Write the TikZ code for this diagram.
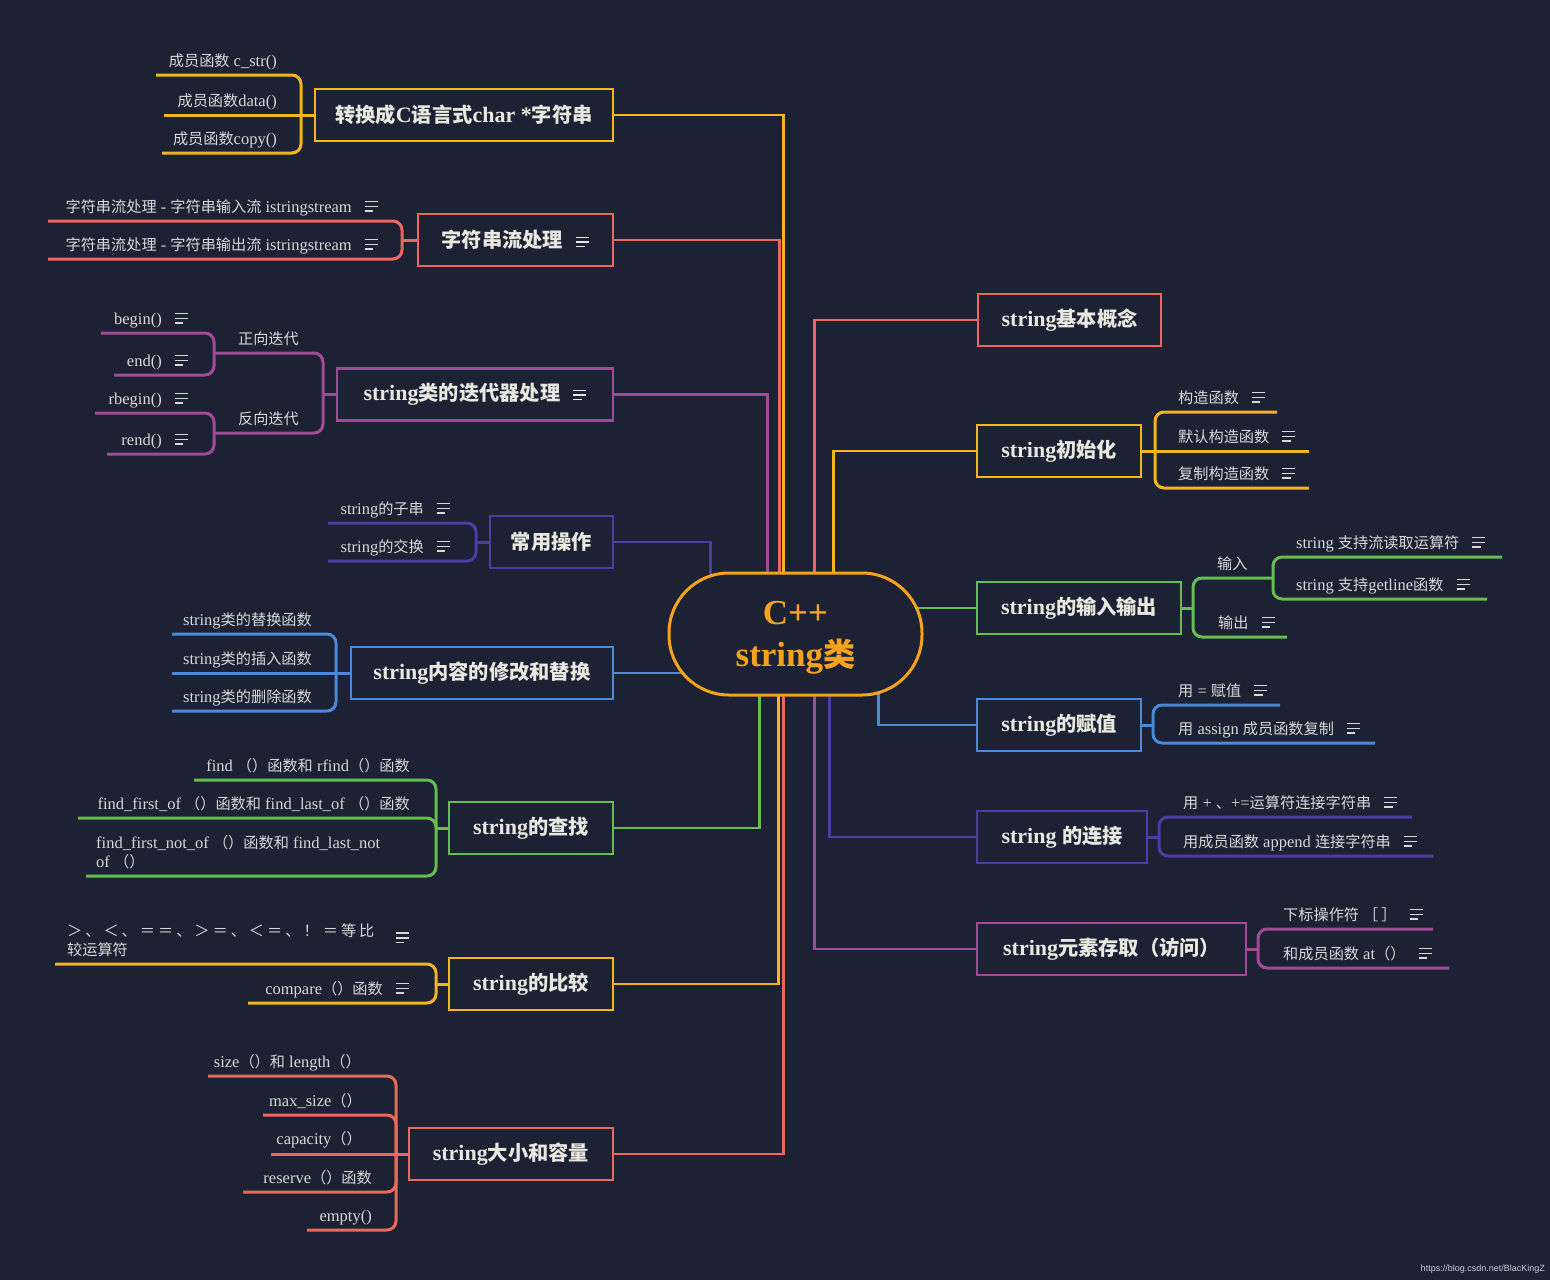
\documentclass[tikz,border=0pt]{standalone}
\usepackage{fontspec}
\setmainfont{Liberation Serif}
\newfontfamily\cjkfont{Noto Sans CJK SC}[Scale=0.92,NFSSFamily=cjkfam]
\newfontfamily\wmfont{Liberation Sans}
\usetikzlibrary{calc}
\pgfdeclarelayer{back}
\pgfsetlayers{back,main}
% automatic switch to the CJK font for Chinese characters
\XeTeXinterchartokenstate=1
\newXeTeXintercharclass\cjkclass
\makeatletter
\count@="3000
\loop\ifnum\count@<"3040 \XeTeXcharclass\count@=\cjkclass\advance\count@\@ne\repeat
\count@="4E00
\loop\ifnum\count@<"A000 \XeTeXcharclass\count@=\cjkclass\advance\count@\@ne\repeat
\count@="FF00
\loop\ifnum\count@<"FFF0 \XeTeXcharclass\count@=\cjkclass\advance\count@\@ne\repeat
\makeatother
\newcommand\tocjk{\fontfamily{cjkfam}\selectfont}
\newcommand\tolat{\fontfamily{\rmdefault}\selectfont}
\XeTeXinterchartoks 0 \cjkclass={\tocjk}
\XeTeXinterchartoks 4095 \cjkclass={\tocjk}
\XeTeXinterchartoks \cjkclass 0={\tolat}
\XeTeXinterchartoks \cjkclass 4095={\tolat}
\newcommand\noteic{\raisebox{0.3pt}{\vbox{\hrule width 13pt height 1.5pt\vskip 3.2pt\hrule width 13pt height 1.5pt\vskip 3.2pt\hrule width 8.5pt height 1.5pt}}}
\newcommand\gp{\hspace{3pt}}
\definecolor{bg}{RGB}{28,34,52}
\definecolor{yel}{RGB}{246,180,30}
\definecolor{ctr}{RGB}{245,163,28}
\definecolor{red}{RGB}{236,104,90}
\definecolor{pur}{RGB}{163,74,150}
\definecolor{ind}{RGB}{78,60,164}
\definecolor{blu}{RGB}{74,136,218}
\definecolor{grn}{RGB}{100,190,80}
\definecolor{stext}{RGB}{216,216,216}
\definecolor{ttext}{RGB}{232,232,224}
\definecolor{wmc}{RGB}{200,204,216}
\begin{document}
\begin{tikzpicture}[x=1pt,y=-1pt,
  topic/.style={draw=#1,line width=2.2pt,fill=bg,minimum height=52pt,inner sep=0pt,text=ttext,font=\bfseries\fontsize{22}{26}\selectfont},
  subL/.style={anchor=base east,inner sep=0pt,text=stext,font=\fontsize{16.5}{20}\selectfont},
  subR/.style={anchor=base west,inner sep=0pt,text=stext,font=\fontsize{16.5}{20}\selectfont},
  multiline/.style={anchor=north west,inner sep=0pt,align=left,text=stext,font=\fontsize{16.5}{19.5}\selectfont},
  mlink/.style={line width=2.4pt},
  brc/.style={line width=3pt,rounded corners=9pt},
]
\useasboundingbox (0,0) rectangle (1550,1280);

% ---------- centre ----------
\node[draw=ctr,line width=3pt,fill=bg,rounded corners=60pt,minimum width=253pt,minimum height=122pt,
      align=center,text=ctr,text depth=-4pt,font=\bfseries\fontsize{35}{42}\selectfont] (C) at (795.5,634) {C++\\string类};

% ---------- left topics ----------
\node[topic=yel,minimum width=298pt,anchor=east] (L1) at (614,115) {转换成C语言式char *字符串};
\node[topic=red,minimum width=195pt,anchor=east] (L2) at (614,240) {字符串流处理\hspace{13pt}\noteic};
\node[topic=pur,minimum width=276pt,anchor=east] (L3) at (614,394.5) {string类的迭代器处理\hspace{13pt}\noteic};
\node[topic=ind,minimum width=123pt,anchor=east] (L4) at (614,542) {常用操作};
\node[topic=blu,minimum width=262pt,anchor=east] (L5) at (614,673) {string内容的修改和替换};
\node[topic=grn,minimum width=164pt,anchor=east] (L6) at (614,828) {string的查找};
\node[topic=yel,minimum width=164pt,anchor=east] (L7) at (614,984) {string的比较};
\node[topic=red,minimum width=204pt,anchor=east] (L8) at (614,1154) {string大小和容量};

% ---------- right topics ----------
\node[topic=red,minimum width=183pt,anchor=west] (R1) at (977,320) {string基本概念};
\node[topic=yel,minimum width=164pt,anchor=west] (R2) at (976,451) {string初始化};
\node[topic=grn,minimum width=204pt,anchor=west] (R3) at (976,608) {string的输入输出};
\node[topic=blu,minimum width=164pt,anchor=west] (R4) at (976,725) {string的赋值};
\node[topic=ind,minimum width=170pt,anchor=west] (R5) at (976,837) {string 的连接};
\node[topic=pur,minimum width=269pt,anchor=west] (R6) at (976,949) {string元素存取（访问）};

% ---------- left subtopic texts ----------
\node[subL] (n11) at (277,66) {成员函数 c\_str()};
\node[subL] (n12) at (277,106) {成员函数data()};
\node[subL] (n13) at (277,144) {成员函数copy()};

\node[subL] (n21) at (378,212) {字符串流处理 - 字符串输入流 istringstream\hspace{13pt}\noteic};
\node[subL] (n22) at (378,250) {字符串流处理 - 字符串输出流 istringstream\hspace{13pt}\noteic};

\node[subL] (n31) at (299,344) {正向迭代};
\node[subL] (n32) at (299,424) {反向迭代};
\node[subL] (n311) at (188,324) {begin()\hspace{13pt}\noteic};
\node[subL] (n312) at (188,366) {end()\hspace{13pt}\noteic};
\node[subL] (n321) at (188,404) {rbegin()\hspace{13pt}\noteic};
\node[subL] (n322) at (188,445) {rend()\hspace{13pt}\noteic};

\node[subL] (n41) at (450,514) {string的子串\hspace{13pt}\noteic};
\node[subL] (n42) at (450,552) {string的交换\hspace{13pt}\noteic};

\node[subL] (n51) at (312,625) {string类的替换函数};
\node[subL] (n52) at (312,664) {string类的插入函数};
\node[subL] (n53) at (312,702) {string类的删除函数};

\node[subL] (n61) at (410,771) {find （）函数和 rfind（）函数};
\node[subL] (n62) at (410,809) {find\_first\_of （）函数和 find\_last\_of （）函数};
\node[multiline] (n63) at (96,835) {find\_first\_not\_of （）函数和 find\_last\_not\\of （）};

\node[multiline] (n71) at (67,923) {＞\gp{}、\gp{}＜\gp{}、\gp{}＝\gp{}＝\gp{}、\gp{}＞\gp{}＝\gp{}、\gp{}＜\gp{}＝\gp{}、\gp{}！ ＝\gp{}等\gp{}比\\较运算符};
\node[inner sep=0pt,text=stext] (i71) at (402,938) {\noteic};
\node[subL] (n72) at (409,994) {compare（）函数\hspace{13pt}\noteic};

\node[subL] (n81) at (361,1067) {size（）和 length（）};
\node[subL] (n82) at (362,1106) {max\_size（）};
\node[subL] (n83) at (362,1144) {capacity（）};
\node[subL] (n84) at (372,1183) {reserve（）函数};
\node[subL] (n85) at (372,1221) {empty()};

% ---------- right subtopic texts ----------
\node[subR] (m21) at (1178,403) {构造函数\hspace{13pt}\noteic};
\node[subR] (m22) at (1178,442) {默认构造函数\hspace{13pt}\noteic};
\node[subR] (m23) at (1178,479) {复制构造函数\hspace{13pt}\noteic};

\node[subR] (m31) at (1217,569) {输入};
\node[subR] (m32) at (1218,628) {输出\hspace{13pt}\noteic};
\node[subR] (m311) at (1296,548) {string 支持流读取运算符\hspace{13pt}\noteic};
\node[subR] (m312) at (1296,590) {string 支持getline函数\hspace{13pt}\noteic};

\node[subR] (m41) at (1178,696) {用 = 赋值\hspace{13pt}\noteic};
\node[subR] (m42) at (1178,734) {用 assign 成员函数复制\hspace{13pt}\noteic};

\node[subR] (m51) at (1183,808) {用 + 、+=运算符连接字符串\hspace{13pt}\noteic};
\node[subR] (m52) at (1183,847) {用成员函数 append 连接字符串\hspace{13pt}\noteic};

\node[subR] (m61) at (1283,920) {下标操作符 ［\gp{}］\hspace{13pt}\noteic};
\node[subR] (m62) at (1283,959) {和成员函数 at（）\hspace{13pt}\noteic};

\node[anchor=east,inner sep=0pt,text=wmc,font=\wmfont\fontsize{9}{10}\selectfont] (wm) at (1545,1269) {https://blog.csdn.net/BlacKingZ};

% ---------- spine points and free ends ----------
\coordinate (s1) at (301,115);
\coordinate (a11) at (156,75); \coordinate (a12) at (164,115); \coordinate (a13) at (162,153);
\coordinate (s2) at (402,240);
\coordinate (a21) at (48,221); \coordinate (a22) at (48,259);
\coordinate (s3) at (323,394.5);
\coordinate (p31) at (214,353); \coordinate (p32) at (214,433);
\coordinate (b11) at (101,333); \coordinate (b12) at (114,375);
\coordinate (b21) at (95,413); \coordinate (b22) at (107,454);
\coordinate (s4) at (476,542);
\coordinate (a41) at (328,523); \coordinate (a42) at (328,561);
\coordinate (s5) at (336,673);
\coordinate (a51) at (172,634); \coordinate (a52) at (172,673); \coordinate (a53) at (172,711);
\coordinate (s6) at (436,828);
\coordinate (a61) at (194,780); \coordinate (a62) at (78,818); \coordinate (a63) at (86,876);
\coordinate (s7) at (436,984);
\coordinate (a71) at (55,964); \coordinate (a72) at (248,1003);
\coordinate (s8) at (396,1154);
\coordinate (a81) at (208,1076); \coordinate (a82) at (263,1115); \coordinate (a83) at (271,1154);
\coordinate (a84) at (243,1192); \coordinate (a85) at (307,1230);

\coordinate (t2) at (1155,451);
\coordinate (c21) at (1277,412); \coordinate (c22) at (1309,451); \coordinate (c23) at (1309,488);
\coordinate (t3) at (1193,608);
\coordinate (q31) at (1273,578); \coordinate (c32) at (1287,637);
\coordinate (c311) at (1502,557); \coordinate (c312) at (1487,599);
\coordinate (t4) at (1153,725);
\coordinate (c41) at (1280,705); \coordinate (c42) at (1375,743);
\coordinate (t5) at (1159,837);
\coordinate (c51) at (1412,817); \coordinate (c52) at (1433,856);
\coordinate (t6) at (1258,949);
\coordinate (c61) at (1433,929); \coordinate (c62) at (1449,968);

\begin{pgfonlayer}{back}
\fill[bg] (0,0) rectangle (1550,1280);
% main connectors
\draw[mlink,yel] (L1.east) -| ($(C.center)+(-12,0)$);
\draw[mlink,red] (L2.east) -| ($(C.center)+(-16,0)$);
\draw[mlink,pur] (L3.east) -| ($(C.center)+(-28,0)$);
\draw[mlink,ind] (L4.east) -| ($(C.center)+(-85,0)$);
\draw[mlink,blu] (L5.east) -- (L5.east -| C.center);
\draw[mlink,grn] (L6.east) -| ($(C.center)+(-36,0)$);
\draw[mlink,yel] (L7.east) -| ($(C.center)+(-17,0)$);
\draw[mlink,red] (L8.east) -| ($(C.center)+(-12,0)$);
\draw[mlink,red] (R1.west) -| ($(C.center)+(19,0)$);
\draw[mlink,yel] (R2.west) -| ($(C.center)+(38,0)$);
\draw[mlink,grn] (R3.west) -- (R3.west -| C.center);
\draw[mlink,blu] (R4.west) -| ($(C.center)+(83,0)$);
\draw[mlink,ind] (R5.west) -| ($(C.center)+(34,0)$);
\draw[mlink,pur] (R6.west) -| ($(C.center)+(19,0)$);

% left braces
\draw[brc,yel] (s1) -- (L1.west);
\draw[brc,yel] (a11) -| (s1);
\draw[brc,yel] (a12) -- (s1);
\draw[brc,yel] (a13) -| (s1);

\draw[brc,red] (s2) -- (L2.west);
\draw[brc,red] (a21) -| (s2);
\draw[brc,red] (a22) -| (s2);

\draw[brc,pur] (s3) -- (L3.west);
\draw[brc,pur] (p31) -| (s3);
\draw[brc,pur] (p32) -| (s3);
\draw[brc,pur] (b11) -| (p31);
\draw[brc,pur] (b12) -| (p31);
\draw[brc,pur] (b21) -| (p32);
\draw[brc,pur] (b22) -| (p32);

\draw[brc,ind] (s4) -- (L4.west);
\draw[brc,ind] (a41) -| (s4);
\draw[brc,ind] (a42) -| (s4);

\draw[brc,blu] (s5) -- (L5.west);
\draw[brc,blu] (a51) -| (s5);
\draw[brc,blu] (a52) -- (s5);
\draw[brc,blu] (a53) -| (s5);

\draw[brc,grn] (s6) -- (L6.west);
\draw[brc,grn] (a61) -| (s6);
\draw[brc,grn] (a62) -| (s6);
\draw[brc,grn] (a63) -| (s6);

\draw[brc,yel] (s7) -- (L7.west);
\draw[brc,yel] (a71) -| (s7);
\draw[brc,yel] (a72) -| (s7);

\draw[brc,red] (s8) -- (L8.west);
\draw[brc,red] (a81) -| (s8);
\draw[brc,red] (a82) -| (s8);
\draw[brc,red] (a83) -- (s8);
\draw[brc,red] (a84) -| (s8);
\draw[brc,red] (a85) -| (s8);

% right braces
\draw[brc,yel] (R2.east) -- (t2);
\draw[brc,yel] (t2) |- (c21);
\draw[brc,yel] (t2) -- (c22);
\draw[brc,yel] (t2) |- (c23);

\draw[brc,grn] (R3.east) -- (t3);
\draw[brc,grn] (t3) |- (q31);
\draw[brc,grn] (t3) |- (c32);
\draw[brc,grn] (q31) |- (c311);
\draw[brc,grn] (q31) |- (c312);

\draw[brc,blu] (R4.east) -- (t4);
\draw[brc,blu] (t4) |- (c41);
\draw[brc,blu] (t4) |- (c42);

\draw[brc,ind] (R5.east) -- (t5);
\draw[brc,ind] (t5) |- (c51);
\draw[brc,ind] (t5) |- (c52);

\draw[brc,pur] (R6.east) -- (t6);
\draw[brc,pur] (t6) |- (c61);
\draw[brc,pur] (t6) |- (c62);
\end{pgfonlayer}
\end{tikzpicture}
\end{document}
